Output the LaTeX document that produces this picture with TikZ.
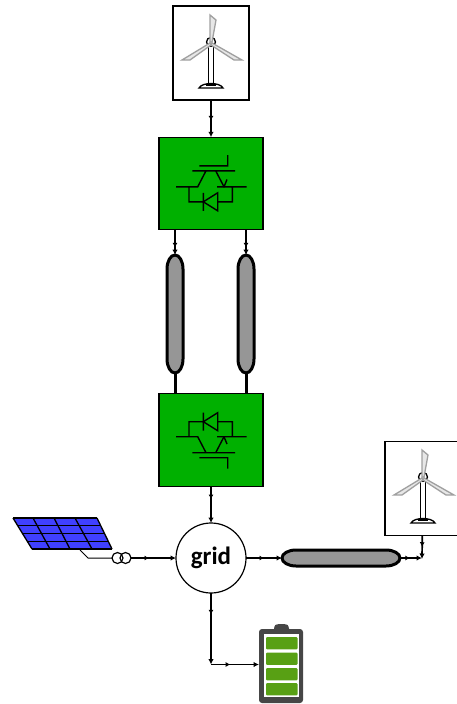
\documentclass[tikz,border=0pt]{standalone}
\usepackage{fontspec}
\newfontfamily\gridfont{Carlito}
\usetikzlibrary{arrows.meta,decorations.markings}
\tikzset{
  wind node/.style={draw, fill=white, line width=1.2pt, outer sep=0pt, minimum width=76pt, minimum height=94pt},
  conv node/.style={draw, fill=convgreen, line width=1.4pt, outer sep=0pt, minimum width=104pt, minimum height=92.5pt},
  cable node/.style={outer sep=0pt, inner sep=0pt},
  cable line/.style={draw, fill=cablegray, line width=3pt},
  link/.style={line width=1.7pt, -{Latex[length=5.5pt,width=5.5pt]}, postaction={decorate},
    decoration={markings, mark=at position #1 with {\arrow{Latex[length=4.5pt,width=5pt]}}}},
  link/.default=0.55,
  turbine/.pic={
    \draw[line width=1.3pt] (0,0) circle (4.5pt);
    \draw[line width=1.3pt, fill=white] (-2.5,4) rectangle (2.5,43);
    \draw[bladegray, line width=1.3pt, fill=bladegray!25]
      (-1,-27) -- (5,-22) -- (1,0) -- (-1,0) -- cycle
      (-1,1) -- (-29,18) -- (-21,18) -- (0,3) -- cycle
      (1,1) -- (31,18) -- (23,18) -- (0,3) -- cycle;
    \draw[line width=1.3pt, fill=white] (-12,46) .. controls (-9,40) and (9,40) .. (12,46) -- cycle;
    \draw[line width=2pt] (-5,43) -- (5,43);
  },
  igbt/.pic={
    \draw[line width=1.4pt]
      (16.7,-28.5) -- (16.7,-17.7) -- (-11.7,-17.7)
      (-18.7,-12.7) -- (24,-12.7)
      (-5,-12.7) -- (-13.3,3.3) -- (-35,3.3)
      (4.7,-12.7) -- (13,3.3) -- (35.7,3.3)
      (-22,3.3) -- (-22,18.3) -- (-7.7,18.3)
      (-7.7,9.3) -- (-7.7,27.3)
      (6.7,18.3) -- (21.3,18.3) -- (21.3,3.3);
    \draw[line width=1.4pt] (-7.7,18.3) -- (6.7,9.3) -- (6.7,27.3) -- cycle;
    \draw[line width=1.4pt] (6,3.3) -- (13,3.3) -- (16,-4);
  },
}
\definecolor{convgreen}{RGB}{0,176,0}
\definecolor{cablegray}{RGB}{150,150,150}
\definecolor{bladegray}{RGB}{160,160,160}
\definecolor{panelblue}{RGB}{64,64,255}
\definecolor{batgray}{RGB}{70,70,70}
\definecolor{batgreen}{RGB}{88,160,20}
\begin{document}
\begin{tikzpicture}[x=1pt, y=-1pt]
  \useasboundingbox (0,0) rectangle (457,704);

  \node[wind node] (windtop) at (211,53) {};
  \node[conv node] (convtop) at (211,183.5) {};
  \node[cable node, minimum width=16pt, minimum height=118pt] (cablea) at (175,314) {};
  \node[cable node, minimum width=16pt, minimum height=118pt] (cableb) at (246,314) {};
  \node[conv node] (convbot) at (211,440) {};
  \node[draw, circle, line width=1.2pt, outer sep=0pt, minimum size=70pt, font=\gridfont\bfseries\fontsize{25}{25}\selectfont] (grid) at (211,558) {grid};
  \node[cable node, minimum width=118pt, minimum height=16pt] (cablec) at (341,558) {};
  \node[wind node] (windright) at (423,488.5) {};
  \node[draw, circle, line width=1.2pt, minimum size=11pt, inner sep=0pt, outer sep=0pt] (trafoa) at (117.5,558) {};
  \node[draw, circle, line width=1.2pt, minimum size=11pt, inner sep=0pt, outer sep=0pt] (trafob) at (125.5,558) {};
  \node[fill=batgray, rounded corners=3pt, inner sep=0pt, outer sep=0pt, minimum width=44pt, minimum height=74pt] (battery) at (281,666) {};
  \coordinate (panelfoot) at (80,550);
  \coordinate (panelbend) at (88,558);
  \coordinate (gridbend) at (211,664.5);
  \coordinate (windbend) at (422,558);

  \pic at ([yshift=11pt]windtop) {turbine};
  \pic at ([yshift=11.5pt]windright) {turbine};
  \pic at (convtop) {igbt};
  \pic[yscale=-1] at (convbot) {igbt};

  \foreach \c in {cablea,cableb} {
    \path[cable line] ([yshift=-14pt]\c.north west) arc[start angle=180, end angle=0, x radius=8pt, y radius=14pt]
      -- ([yshift=14pt]\c.south east) arc[start angle=0, end angle=-180, x radius=8pt, y radius=14pt] -- cycle;
  }
  \path[cable line] ([xshift=14pt]cablec.north west) arc[start angle=90, end angle=270, x radius=14pt, y radius=8pt]
    -- ([xshift=-14pt]cablec.south east) arc[start angle=-90, end angle=90, x radius=14pt, y radius=8pt] -- cycle;

  \fill[panelblue] (13,518) -- (97,518) -- (112,549) -- (32,549) -- cycle;
  \foreach \r in {0,1,2,3,4} {
    \draw[line width=1.3pt] ({13+\r*19/4},{518+\r*31/4}) -- ({97+\r*15/4},{518+\r*31/4});
  }
  \foreach \a/\b in {13/32,33/50,54/70,75/92,97/112} {
    \draw[line width=1.3pt] (\a,518) -- (\b,549);
  }

  \fill[batgray, rounded corners=2.5pt] (274,632) -- (274,626) -- (277,624) -- (286,624) -- (289,626) -- (289,632) -- cycle;
  \fill[white] (264,634) rectangle (299,697);
  \foreach \y in {637,652.5,668,683} {
    \fill[batgreen, rounded corners=1pt] (266,\y) rectangle (297.5,\y+12.3);
  }

  \draw[link] (windtop) -- (convtop);
  \draw[link=0.7] (cablea.north |- convtop.south) -- (cablea.north);
  \draw[link=0.7] (cableb.north |- convtop.south) -- (cableb.north);
  \draw[line width=3pt] (cablea.south) -- (cablea.south |- convbot.north);
  \draw[line width=3pt] (cableb.south) -- (cableb.south |- convbot.north);
  \draw[link=0.35] (convbot) -- (grid);
  \draw[line width=1pt] (panelfoot) -- (panelbend) -- (trafoa);
  \draw[link=0.4] (trafob) -- (grid);
  \draw[link=0.5] (grid) -- (cablec);
  \draw[link=0.45] (cablec) -- (windbend);
  \draw[link=0.5, shorten >=-1pt] (windright) -- (windbend);
  \draw[link=0.3] (grid) -- (gridbend);
  \draw[link=0.4] (gridbend) -- (gridbend -| battery.west);
\end{tikzpicture}
\end{document}
